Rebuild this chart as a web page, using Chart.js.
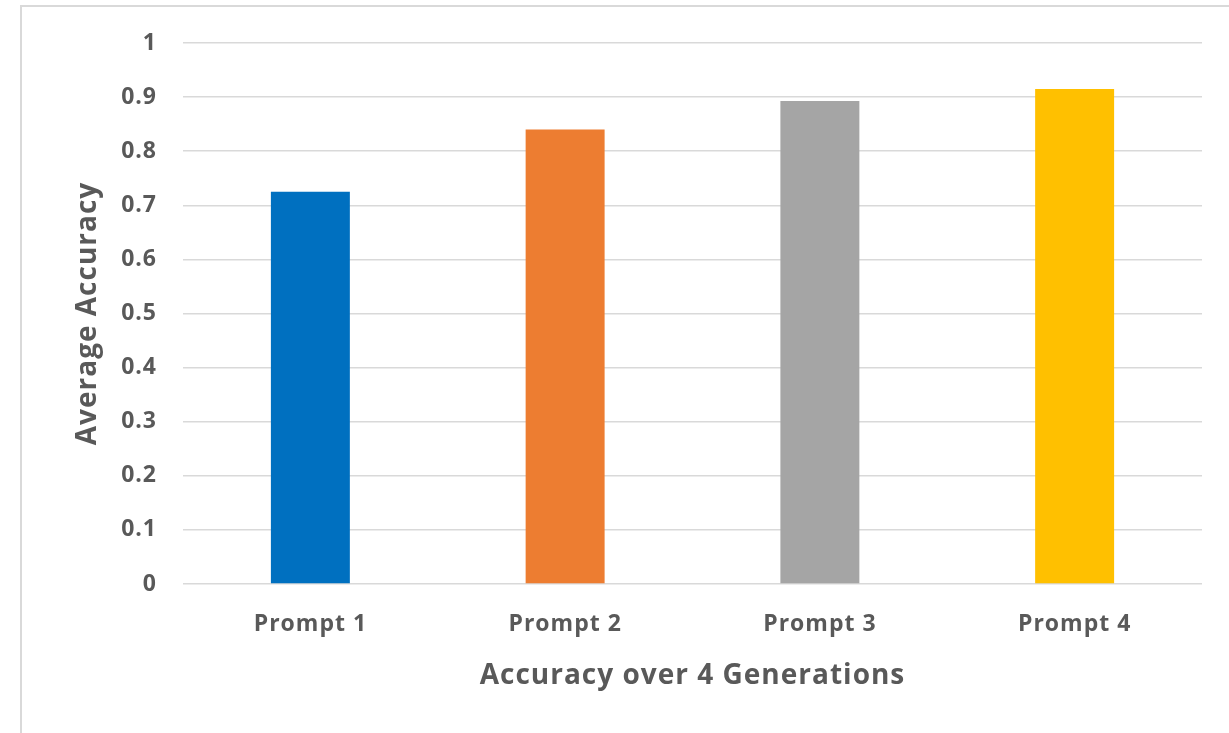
<!DOCTYPE html>
<html>
<head>
<meta charset="utf-8">
<script src="https://cdn.jsdelivr.net/npm/chart.js@4.4.0/dist/chart.umd.min.js"></script>
<style>
  html, body { margin: 0; padding: 0; background: #ffffff; }
  #wrap { position: relative; width: 1229px; height: 733px; overflow: hidden; }
  #frame { position: absolute; left: 20px; top: 5px; width: 1240px; height: 760px;
           border: 2px solid #d9d9d9; box-sizing: border-box; }
  canvas { position: absolute; left: 0; top: 0; }
</style>
</head>
<body>
<div id="wrap">
  <div id="frame"></div>
  <canvas id="c" width="1229" height="733"></canvas>
</div>
<script>
// Average accuracy per prompt, measured over 4 generations
const categories = ['Prompt 1', 'Prompt 2', 'Prompt 3', 'Prompt 4'];
const accuracy = [0.725, 0.84, 0.893, 0.915];
const barColors = ['#0070C0', '#ED7D31', '#A5A5A5', '#FFC000'];
const yTicks = [0, 0.1, 0.2, 0.3, 0.4, 0.5, 0.6, 0.7, 0.8, 0.9, 1];

const textColor = '#595959';
const fontFamily = '"Open Sans", "Liberation Sans", sans-serif';

// slightly wider text tracking for all labels
const tracking = {
  id: 'tracking',
  beforeDraw(chart) { chart.ctx.letterSpacing = '1px'; }
};

new Chart(document.getElementById('c'), {
  type: 'bar',
  data: {
    labels: categories,
    datasets: [{
      data: accuracy,
      backgroundColor: barColors,
      borderWidth: 0,
      categoryPercentage: 1.0,
      barPercentage: 0.31
    }]
  },
  plugins: [tracking],
  options: {
    responsive: false,
    animation: false,
    layout: { padding: { left: 68, right: 27, top: 43, bottom: 40 } },
    plugins: { legend: { display: false }, tooltip: { enabled: false } },
    scales: {
      x: {
        grid: { display: false, drawTicks: false },
        border: { display: false },
        ticks: { color: textColor, font: { family: fontFamily, size: 23, weight: 'bold' }, padding: 27 },
        title: {
          display: true, text: 'Accuracy over 4 Generations', color: textColor,
          font: { family: fontFamily, size: 28, weight: 'bold' }, padding: { top: 4, bottom: 0 }
        },
        afterFit: (s) => { s.height = 693 - 584; }
      },
      y: {
        min: 0, max: 1,
        afterBuildTicks: (s) => { s.ticks = yTicks.map(v => ({ value: v })); },
        grid: { color: '#d9d9d9', lineWidth: 1.5, drawTicks: false },
        border: { display: false },
        ticks: {
          color: textColor, font: { family: fontFamily, size: 23, weight: 'bold' }, padding: 26,
          callback: (v) => String(Math.round(v * 10) / 10)
        },
        title: {
          display: true, text: 'Average Accuracy', color: textColor,
          font: { family: fontFamily, size: 28, weight: 'bold' }, padding: { top: 3, bottom: 0 }
        },
        afterFit: (s) => { s.width = 183 - 68; }
      }
    }
  }
});
</script>
</body>
</html>
